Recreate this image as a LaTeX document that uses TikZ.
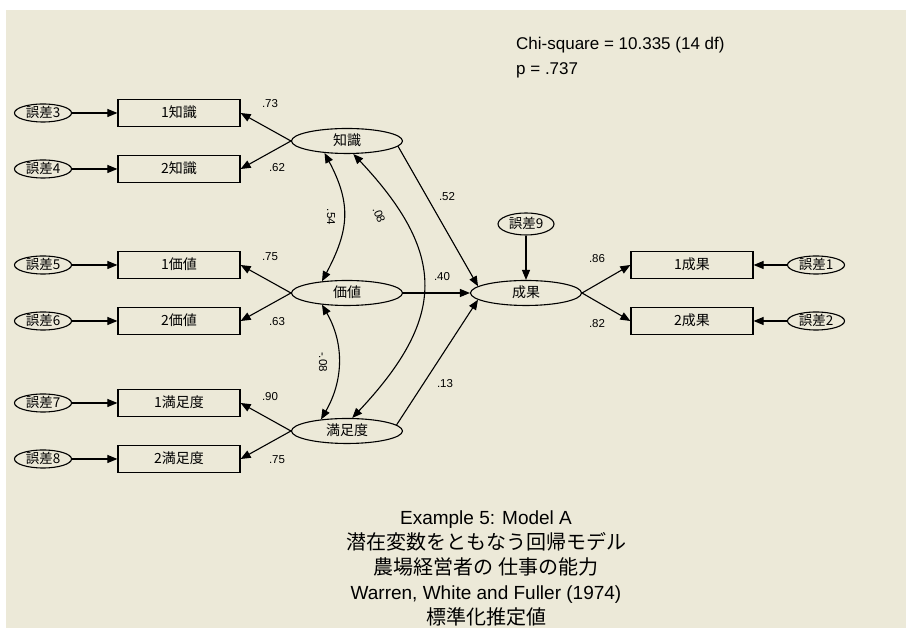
\documentclass[tikz,border=0pt]{standalone}
\usepackage{fontspec}
\setmainfont{Liberation Sans}
\newfontfamily\jp{Noto Sans CJK JP}
\usepackage{tikz}
\usetikzlibrary{arrows.meta,shapes.geometric}
\definecolor{fondC}{HTML}{ECE9D8}
\tikzset{
  obsbox/.style={rectangle, draw=black, line width=1.2pt, fill=fondC, inner sep=0pt,
                 minimum width=122pt, minimum height=27pt, text height=10.5pt, text depth=1pt,
                 font=\jp\fontsize{14}{16}\selectfont},
  latent/.style={ellipse, draw=black, line width=1.1pt, fill=fondC, inner sep=0pt,
                 minimum width=111pt, minimum height=25pt, text height=10.5pt, text depth=1pt,
                 font=\jp\fontsize{14}{16}\selectfont},
  errov/.style={ellipse, draw=black, line width=1.1pt, fill=fondC, inner sep=0pt,
                minimum width=57pt, minimum height=18pt, text height=10pt, text depth=1pt,
                font=\jp\fontsize{13.5}{15}\selectfont},
  arr/.style={-{Triangle[length=10pt,width=8pt]}, line width=1.1pt},
  corr/.style={{Triangle[length=10pt,width=8pt]}-{Triangle[length=10pt,width=8pt]}, line width=1.1pt},
  coef/.style={font=\fontsize{11.5}{13}\selectfont, inner sep=0pt},
}
\begin{document}
\begin{tikzpicture}[x=1pt, y=1pt]
\fill[white] (0,0) rectangle (906,628);
\fill[fondC] (6,0) rectangle (906,618);
\useasboundingbox (0,0) rectangle (906,628);
% indicateurs a gauche
\node[errov] (e3) at (43,515) {誤差3};
\node[errov] (e4) at (43,459) {誤差4};
\node[errov] (e5) at (43,363) {誤差5};
\node[errov] (e6) at (43,307) {誤差6};
\node[errov] (e7) at (43,225) {誤差7};
\node[errov] (e8) at (43,169) {誤差8};
\node[obsbox] (k1) at (179,515) {1知識};
\node[obsbox] (k2) at (179,459) {2知識};
\node[obsbox] (v1) at (179,363) {1価値};
\node[obsbox] (v2) at (179,307) {2価値};
\node[obsbox] (m1) at (179,225) {1満足度};
\node[obsbox] (m2) at (179,169) {2満足度};
\draw[arr] (e3) -- (k1);
\draw[arr] (e4) -- (k2);
\draw[arr] (e5) -- (v1);
\draw[arr] (e6) -- (v2);
\draw[arr] (e7) -- (m1);
\draw[arr] (e8) -- (m2);
% variables latentes
\node[latent] (chishiki) at (347,487) {知識};
\node[latent] (kachi) at (347,335) {価値};
\node[latent] (manzoku) at (347,197) {満足度};
\node[latent] (seika) at (526,335) {成果};
\node[errov, minimum width=56pt, minimum height=22pt] (e9) at (526,404) {誤差9};
\draw[arr] (chishiki.west) -- (k1.east);
\draw[arr] (chishiki.west) -- (k2.east);
\draw[arr] (kachi.west) -- (v1.east);
\draw[arr] (kachi.west) -- (v2.east);
\draw[arr] (manzoku.west) -- (m1.east);
\draw[arr] (manzoku.west) -- (m2.east);
\node[coef] (c73) at (270,524) {.73};
\node[coef] (c62) at (277,460) {.62};
\node[coef] (c75a) at (270,371) {.75};
\node[coef] (c63) at (277,306) {.63};
\node[coef] (c90) at (270,231) {.90};
\node[coef] (c75b) at (277,168) {.75};
% correlations
\draw[corr] (chishiki.208) to[out=-62, in=62, looseness=1.15] (kachi.155);
\draw[corr] (chishiki.296) .. controls +(94,-100) and +(94,100) .. (manzoku.68);
\draw[corr] (kachi.205) to[out=-60, in=60] (manzoku.156);
\node[coef, rotate=-90] (r54) at (331,411) {.54};
\node[coef, rotate=-68] (r08) at (379,413) {.08};
\node[coef, rotate=-90] (rm08) at (323,266) {-.08};
% chemins vers le resultat
\draw[arr] (chishiki.354) -- (seika.172);
\draw[arr] (kachi.east) -- (seika.west);
\draw[arr] (manzoku.7) -- (seika.188);
\draw[arr] (e9) -- (seika);
\node[coef] (p52) at (447,431) {.52};
\node[coef] (p40) at (442,351) {.40};
\node[coef] (p13) at (445,244) {.13};
% indicateurs a droite
\node[obsbox] (s1) at (692,363) {1成果};
\node[obsbox] (s2) at (692,307) {2成果};
\node[errov] (e1) at (816,363) {誤差1};
\node[errov] (e2) at (816,307) {誤差2};
\draw[arr] (seika.east) -- (s1.west);
\draw[arr] (seika.east) -- (s2.west);
\draw[arr] (e1) -- (s1);
\draw[arr] (e2) -- (s2);
\node[coef] (c86) at (597,369) {.86};
\node[coef] (c82) at (597,304) {.82};
% textes
\node[anchor=west, inner sep=0pt, font=\fontsize{17}{20}\selectfont] (chi) at (516,583) {Chi-square = 10.335 (14 df)};
\node[anchor=west, inner sep=0pt, font=\fontsize{17}{20}\selectfont] (pval) at (516,558) {p = .737};
\node[align=center, inner sep=0pt, font=\fontsize{19}{25}\selectfont] (titre) at (486,60)
  {Example 5: Model A\\ {\jp\fontsize{20}{25}\selectfont 潜在変数をともなう回帰モデル}\\
   {\jp\fontsize{20}{25}\selectfont 農場経営者の 仕事の能力}\\ Warren, White and Fuller (1974)\\
   {\jp\fontsize{20}{25}\selectfont 標準化推定値}};
\end{tikzpicture}
\end{document}
